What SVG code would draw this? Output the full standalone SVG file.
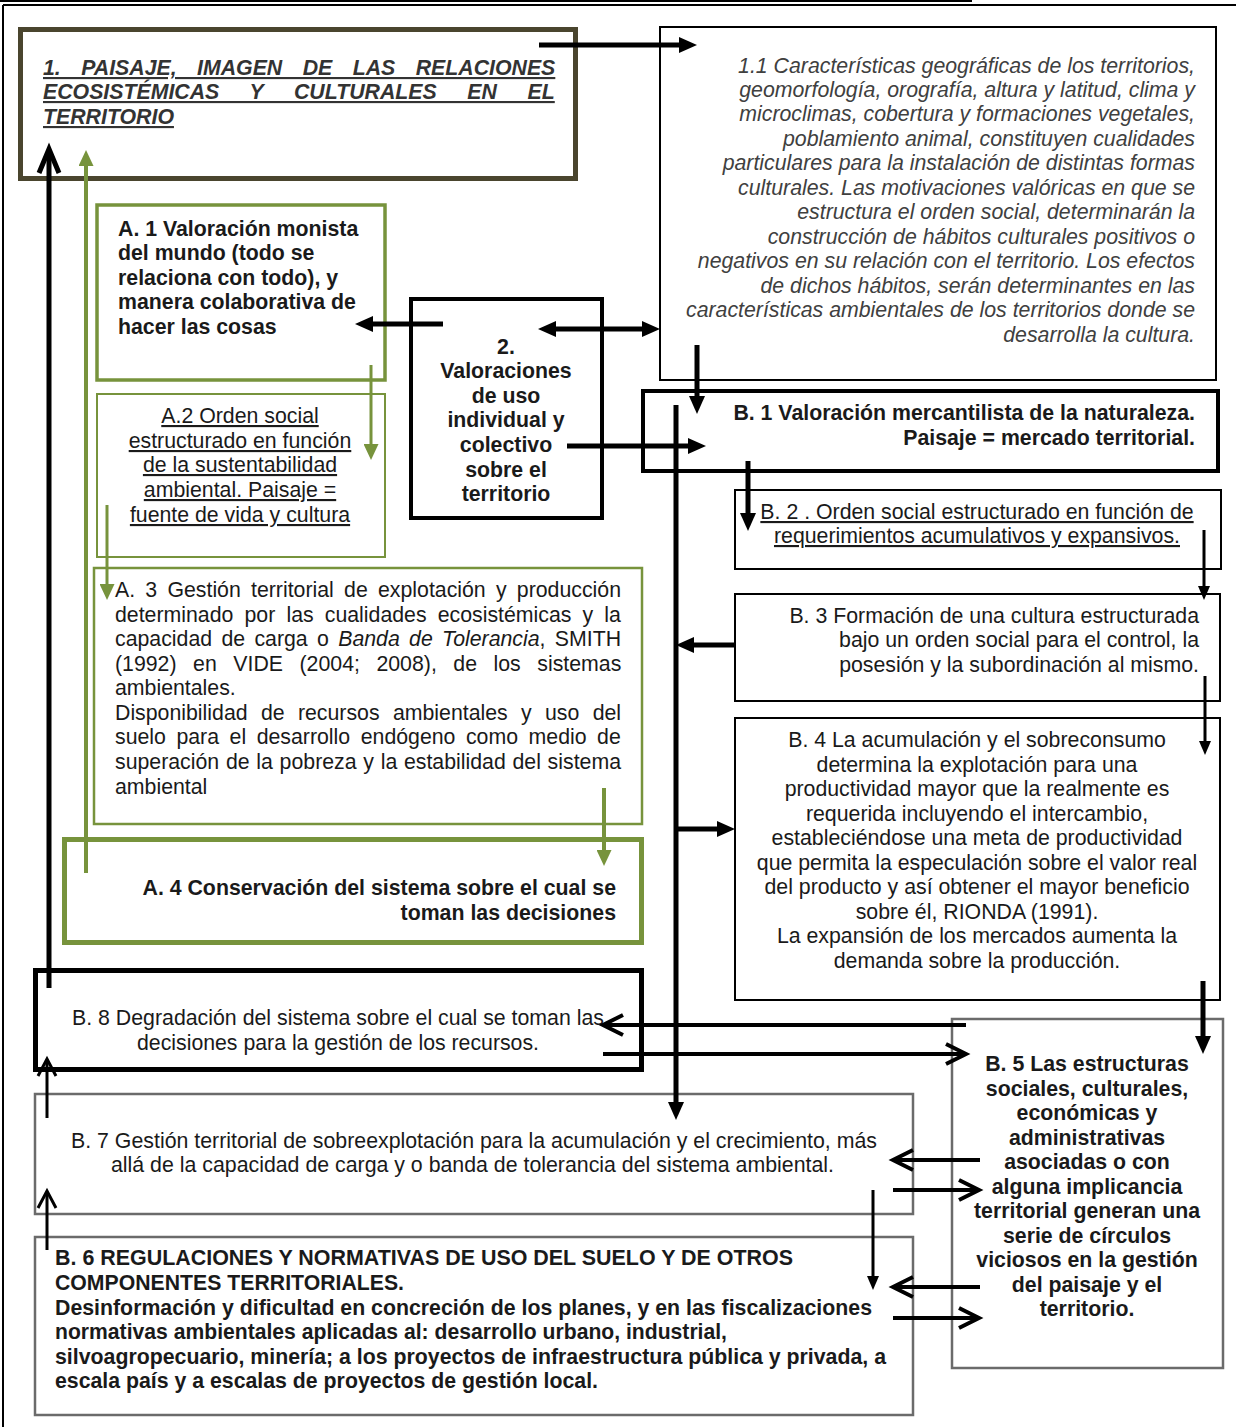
<svg xmlns="http://www.w3.org/2000/svg" width="1236" height="1427" viewBox="0 0 1236 1427">
<style>
.t{font-family:"Liberation Sans",Arial,sans-serif;font-size:21.3px;fill:#1a1a1a}
.b{font-weight:bold}
.i{font-style:italic}
.u{text-decoration:underline}
.m{text-anchor:middle}
.e{text-anchor:end}
.box{fill:#fff;stroke:#000}
.gb{fill:#fff;stroke:#77933c}
.gr{fill:#fff;stroke:#6b6b6b;stroke-width:2.5}
.k{fill:none;stroke:#000;stroke-width:5}
.k4{fill:none;stroke:#000;stroke-width:4}
.k3{fill:none;stroke:#000;stroke-width:3}
.g{fill:none;stroke:#77933c}
</style>
<defs>
<marker id="ah" viewBox="0 0 18 16" refX="4" refY="8" markerWidth="18" markerHeight="16" markerUnits="userSpaceOnUse" orient="auto-start-reverse"><path d="M0,0 L18,8 L0,16 z" fill="#000"/></marker>
<marker id="ahs" viewBox="0 0 14 12" refX="3" refY="6" markerWidth="14" markerHeight="12" markerUnits="userSpaceOnUse" orient="auto"><path d="M0,0 L14,6 L0,12 z" fill="#000"/></marker>
<marker id="ahg" viewBox="0 0 16 15" refX="4" refY="7.5" markerWidth="16" markerHeight="15" markerUnits="userSpaceOnUse" orient="auto"><path d="M0,0 L16,7.5 L0,15 z" fill="#77933c"/></marker>
<marker id="ao" viewBox="-3 -3 26 26" refX="19" refY="10" markerWidth="26" markerHeight="26" markerUnits="userSpaceOnUse" orient="auto" overflow="visible"><path d="M0,0 L20,10 L0,20" fill="none" stroke="#000" stroke-width="4"/></marker>
<marker id="aoB" viewBox="-3 -13 30 26" refX="23" refY="0" markerWidth="30" markerHeight="26" markerUnits="userSpaceOnUse" orient="auto" overflow="visible"><path d="M0,-10 L24,0 L0,10" fill="none" stroke="#000" stroke-width="5"/></marker>
<marker id="aoS" viewBox="-3 -12 24 24" refX="16" refY="0" markerWidth="24" markerHeight="24" markerUnits="userSpaceOnUse" orient="auto" overflow="visible"><path d="M0,-9 L17,0 L0,9" fill="none" stroke="#000" stroke-width="3"/></marker>
</defs>

<g id="page">
<line x1="0" y1="1" x2="972" y2="1" stroke="#000" stroke-width="2"/>
<line x1="3" y1="5" x2="1236" y2="5" stroke="#000" stroke-width="2"/>
<line x1="3" y1="5" x2="3" y2="1427" stroke="#000" stroke-width="2"/>
</g>

<g id="n1">
<rect x="20.5" y="29.5" width="555" height="149" fill="#fff" stroke="#4a452e" stroke-width="5"/>
<text class="t b i u" style="fill:#333;word-spacing:14.5px" x="43" y="75">1. PAISAJE, IMAGEN DE LAS RELACIONES</text>
<text class="t b i u" style="fill:#333;word-spacing:24.7px" x="43" y="99">ECOSISTÉMICAS Y CULTURALES EN EL</text>
<text class="t b i u" style="fill:#333" x="43" y="124">TERRITORIO</text>
</g>

<g id="n11">
<rect class="box" x="660" y="27" width="556" height="353" stroke-width="2"/>
<text class="t i e" style="fill:#404040"><tspan x="1195" y="73">1.1 Características geográficas de los territorios,</tspan
><tspan x="1195" y="97">geomorfología, orografía, altura y latitud, clima y</tspan
><tspan x="1195" y="121">microclimas, cobertura y formaciones vegetales,</tspan
><tspan x="1195" y="146">poblamiento animal, constituyen cualidades</tspan
><tspan x="1195" y="170">particulares para la instalación de distintas formas</tspan
><tspan x="1195" y="195">culturales. Las motivaciones valóricas en que se</tspan
><tspan x="1195" y="219">estructura el orden social, determinarán la</tspan
><tspan x="1195" y="244">construcción de hábitos culturales positivos o</tspan
><tspan x="1195" y="268">negativos en su relación con el territorio. Los efectos</tspan
><tspan x="1195" y="293">de dichos hábitos, serán determinantes en las</tspan
><tspan x="1195" y="317">características ambientales de los territorios donde se</tspan
><tspan x="1195" y="342">desarrolla la cultura.</tspan></text>
</g>

<g id="nA1">
<rect class="gb" x="97" y="205" width="288" height="175" stroke-width="3.5"/>
<text class="t b"><tspan x="118" y="236">A. 1 Valoración monista</tspan
><tspan x="118" y="260">del mundo (todo se</tspan
><tspan x="118" y="285">relaciona con todo), y</tspan
><tspan x="118" y="309">manera colaborativa de</tspan
><tspan x="118" y="334">hacer las cosas</tspan></text>
</g>

<g id="nA2">
<rect class="gb" x="97" y="394" width="288" height="163" stroke-width="2"/>
<text class="t u m"><tspan x="240" y="423">A.2 Orden social</tspan
><tspan x="240" y="448">estructurado en función</tspan
><tspan x="240" y="472">de la sustentabilidad</tspan
><tspan x="240" y="497">ambiental. Paisaje =</tspan
><tspan x="240" y="522">fuente de vida y cultura</tspan></text>
</g>

<g id="n2">
<rect class="box" x="411" y="299" width="191" height="219" stroke-width="4"/>
<text class="t b m"><tspan x="506" y="354">2.</tspan
><tspan x="506" y="378">Valoraciones</tspan
><tspan x="506" y="403">de uso</tspan
><tspan x="506" y="427">individual y</tspan
><tspan x="506" y="452">colectivo</tspan
><tspan x="506" y="477">sobre el</tspan
><tspan x="506" y="501">territorio</tspan></text>
</g>

<g id="nA3">
<rect class="gb" x="94" y="568" width="548" height="256" stroke-width="2.5"/>
<text class="t" style="word-spacing:4.3px" x="115" y="597">A. 3 Gestión territorial de explotación y producción</text>
<text class="t" style="word-spacing:5.2px" x="115" y="622">determinado por las cualidades ecosistémicas y la</text>
<text class="t" style="word-spacing:3.4px" x="115" y="646">capacidad de carga o <tspan class="i">Banda de Tolerancia</tspan>, SMITH</text>
<text class="t" style="word-spacing:10.6px" x="115" y="671">(1992) en VIDE (2004; 2008), de los sistemas</text>
<text class="t" x="115" y="695">ambientales.</text>
<text class="t" style="word-spacing:7.4px" x="115" y="720">Disponibilidad de recursos ambientales y uso del</text>
<text class="t" style="word-spacing:4.6px" x="115" y="744">suelo para el desarrollo endógeno como medio de</text>
<text class="t" style="word-spacing:0.8px" x="115" y="769">superación de la pobreza y la estabilidad del sistema</text>
<text class="t" x="115" y="794">ambiental</text>
</g>

<g id="nA4">
<rect class="gb" x="64.5" y="839.5" width="577" height="103" stroke-width="5"/>
<text class="t b e"><tspan x="616" y="895">A. 4 Conservación del sistema sobre el cual se</tspan
><tspan x="616" y="920">toman las decisiones</tspan></text>
</g>

<g id="nB1">
<rect class="box" x="643" y="391" width="575" height="80" stroke-width="4"/>
<text class="t b e"><tspan x="1195" y="420">B. 1 Valoración mercantilista de la naturaleza.</tspan
><tspan x="1195" y="445">Paisaje = mercado territorial.</tspan></text>
</g>

<g id="nB2">
<rect class="box" x="735" y="490" width="486" height="79" stroke-width="2"/>
<text class="t u m"><tspan x="977" y="519">B. 2 . Orden social estructurado en función de</tspan
><tspan x="977" y="543">requerimientos acumulativos y expansivos.</tspan></text>
</g>

<g id="nB3">
<rect class="box" x="735" y="594" width="485" height="107" stroke-width="2"/>
<text class="t e"><tspan x="1199" y="623">B. 3 Formación de una cultura estructurada</tspan
><tspan x="1199" y="647">bajo un orden social para el control, la</tspan
><tspan x="1199" y="672">posesión y la subordinación al mismo.</tspan></text>
</g>

<g id="nB4">
<rect class="box" x="735" y="718" width="485" height="282" stroke-width="2"/>
<text class="t m"><tspan x="977" y="747">B. 4 La acumulación y el sobreconsumo</tspan
><tspan x="977" y="772">determina la explotación para una</tspan
><tspan x="977" y="796">productividad mayor que la realmente es</tspan
><tspan x="977" y="821">requerida incluyendo el intercambio,</tspan
><tspan x="977" y="845">estableciéndose una meta de productividad</tspan
><tspan x="977" y="870">que permita la especulación sobre el valor real</tspan
><tspan x="977" y="894">del producto y así obtener el mayor beneficio</tspan
><tspan x="977" y="919">sobre él, RIONDA (1991).</tspan
><tspan x="977" y="943">La expansión de los mercados aumenta la</tspan
><tspan x="977" y="968">demanda sobre la producción.</tspan></text>
</g>

<g id="nB5">
<rect class="gr" x="952" y="1019" width="271" height="349"/>
<text class="t b m"><tspan x="1087" y="1071">B. 5 Las estructuras</tspan
><tspan x="1087" y="1096">sociales, culturales,</tspan
><tspan x="1087" y="1120">económicas y</tspan
><tspan x="1087" y="1145">administrativas</tspan
><tspan x="1087" y="1169">asociadas o con</tspan
><tspan x="1087" y="1194">alguna implicancia</tspan
><tspan x="1087" y="1218">territorial generan una</tspan
><tspan x="1087" y="1243">serie de círculos</tspan
><tspan x="1087" y="1267">viciosos en la gestión</tspan
><tspan x="1087" y="1292">del paisaje y el</tspan
><tspan x="1087" y="1316">territorio.</tspan></text>
</g>

<g id="nB8">
<rect class="box" x="35.5" y="970.5" width="606" height="99" stroke-width="5"/>
<text class="t" x="72" y="1025" textLength="532" lengthAdjust="spacingAndGlyphs">B. 8 Degradación del sistema sobre el cual se toman las</text>
<text class="t" x="137" y="1050" textLength="402" lengthAdjust="spacingAndGlyphs">decisiones para la gestión de los recursos.</text>
</g>

<g id="nB7">
<rect class="gr" x="35" y="1094" width="878" height="120"/>
<text class="t" x="71" y="1148" textLength="806" lengthAdjust="spacingAndGlyphs">B. 7 Gestión territorial de sobreexplotación para la acumulación y el crecimiento, más</text>
<text class="t" x="111" y="1172" textLength="723" lengthAdjust="spacingAndGlyphs">allá de la capacidad de carga y o banda de tolerancia del sistema ambiental.</text>
</g>

<g id="nB6">
<rect class="gr" x="35" y="1237" width="878" height="178"/>
<text class="t b" x="55" y="1265" textLength="738" lengthAdjust="spacingAndGlyphs">B. 6 REGULACIONES Y NORMATIVAS DE USO DEL SUELO Y DE OTROS</text>
<text class="t b" x="55" y="1290" textLength="349" lengthAdjust="spacingAndGlyphs">COMPONENTES TERRITORIALES.</text>
<text class="t b" x="55" y="1315" textLength="817" lengthAdjust="spacingAndGlyphs">Desinformación y dificultad en concreción de los planes, y en las fiscalizaciones</text>
<text class="t b" x="55" y="1339" textLength="672" lengthAdjust="spacingAndGlyphs">normativas ambientales aplicadas al: desarrollo urbano, industrial,</text>
<text class="t b" x="55" y="1364" textLength="831" lengthAdjust="spacingAndGlyphs">silvoagropecuario, minería; a los proyectos de infraestructura pública y privada, a</text>
<text class="t b" x="55" y="1388" textLength="543" lengthAdjust="spacingAndGlyphs">escala país y a escalas de proyectos de gestión local.</text>
</g>

<g id="connectors">
<path class="k" d="M539,45 H683" marker-end="url(#ah)"/>
<path class="k" d="M49,988 V150" marker-end="url(#aoB)"/>
<path class="g" stroke-width="4" d="M86,873 V162" marker-end="url(#ahg)"/>
<path class="g" stroke-width="3" d="M371,365 V448" marker-end="url(#ahg)"/>
<path class="g" stroke-width="3" d="M107,505 V588" marker-end="url(#ahg)"/>
<path class="g" stroke-width="4" d="M604,788 V854" marker-end="url(#ahg)"/>
<path class="k" d="M443,324 H369" marker-end="url(#ah)"/>
<path class="k" d="M552,329 H646" marker-start="url(#ah)" marker-end="url(#ah)"/>
<path class="k" d="M567,446 H692" marker-end="url(#ah)"/>
<path class="k" d="M697,345 V400" marker-end="url(#ah)"/>
<path class="k" d="M676,405 V1106" marker-end="url(#ah)"/>
<path class="k" d="M735,645 H690" marker-end="url(#ah)"/>
<path class="k" d="M676,829 H721" marker-end="url(#ah)"/>
<path class="k" d="M748,461 V517" marker-end="url(#ah)"/>
<path class="k" d="M1203,981 V1040" marker-end="url(#ah)"/>
<path class="k3" d="M1204,530 V589" marker-end="url(#ahs)"/>
<path class="k3" d="M1205,676 V744" marker-end="url(#ahs)"/>
<path class="k3" d="M873,1190 V1279" marker-end="url(#ahs)"/>
<path class="k4" d="M966,1025 H604" marker-end="url(#ao)"/>
<path class="k4" d="M603,1054 H965" marker-end="url(#ao)"/>
<path class="k4" d="M980,1160 H894" marker-end="url(#ao)"/>
<path class="k4" d="M893,1190 H978" marker-end="url(#ao)"/>
<path class="k4" d="M980,1287 H894" marker-end="url(#ao)"/>
<path class="k4" d="M893,1318 H978" marker-end="url(#ao)"/>
<path class="k3" d="M47,1118 V1060" marker-end="url(#aoS)"/>
<path class="k3" d="M47,1250 V1192" marker-end="url(#aoS)"/>
</g>
</svg>
